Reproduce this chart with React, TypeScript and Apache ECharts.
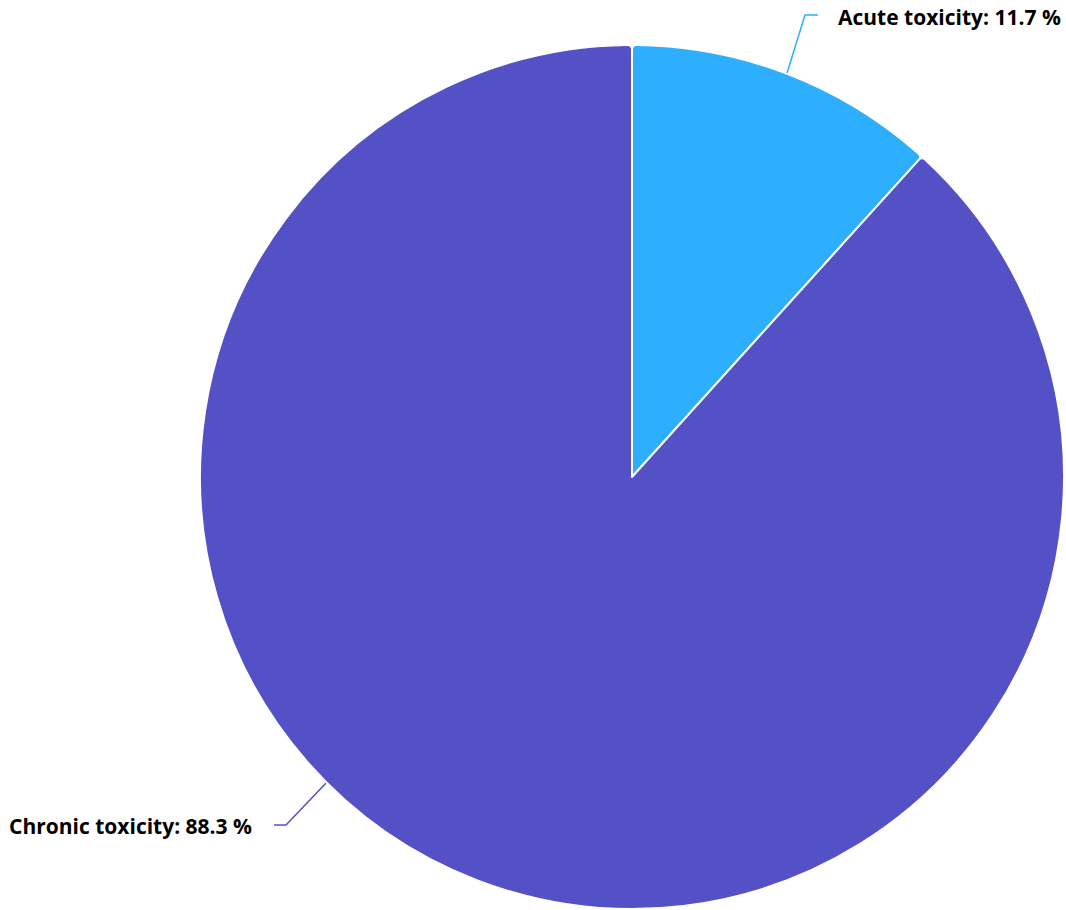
import React, { useEffect, useRef } from "react";
import * as echarts from "echarts";

const categories = ["Acute toxicity", "Chronic toxicity"];
const values = [11.7, 88.3];
const colors = ["#2EAFFE", "#5451C6"];

export default function App() {
  const ref = useRef<HTMLDivElement>(null);
  useEffect(() => {
    const chart = echarts.init(ref.current!, null, { renderer: "svg" });
    const cx = 632, cy = 477, r = 432;
    chart.setOption({
      animation: false,
      series: [
        {
          type: "pie",
          center: [cx, cy],
          radius: [0, r],
          startAngle: 90,
          clockwise: true,
          data: categories.map((name, i) => ({
            name,
            value: values[i],
            itemStyle: { color: colors[i] },
            labelLine: { lineStyle: { color: colors[i], width: 1.5 } },
          })),
          itemStyle: { borderColor: "#fff", borderWidth: 2, borderRadius: 4 },
          label: {
            show: true,
            formatter: (p: any) => `${p.name}: ${p.value} %`,
            fontFamily: "'Open Sans', 'Noto Sans', sans-serif",
            fontWeight: "bold",
            fontSize: 21,
            color: "#000",
          },
          labelLine: { show: true, length: 60, length2: 13 },
          labelLayout: (params: any) => {
            if (params.dataIndex === 0) {
              const a = (21 * Math.PI) / 180;
              const p0 = [cx + r * Math.sin(a), cy - r * Math.cos(a)];
              return {
                x: 838,
                y: 17,
                align: "left",
                verticalAlign: "middle",
                labelLinePoints: [p0, [805, 15], [818, 15]],
              };
            }
            const a = (225 * Math.PI) / 180;
            const p0 = [cx + r * Math.sin(a), cy - r * Math.cos(a)];
            return {
              x: 252,
              y: 826,
              align: "right",
              verticalAlign: "middle",
              labelLinePoints: [p0, [286, 825], [274, 825]],
            };
          },
        },
      ],
    });
    return () => chart.dispose();
  }, []);
  return (
    <div
      ref={ref}
      style={{ position: "absolute", left: 0, top: 0, width: 1066, height: 910 }}
    />
  );
}
